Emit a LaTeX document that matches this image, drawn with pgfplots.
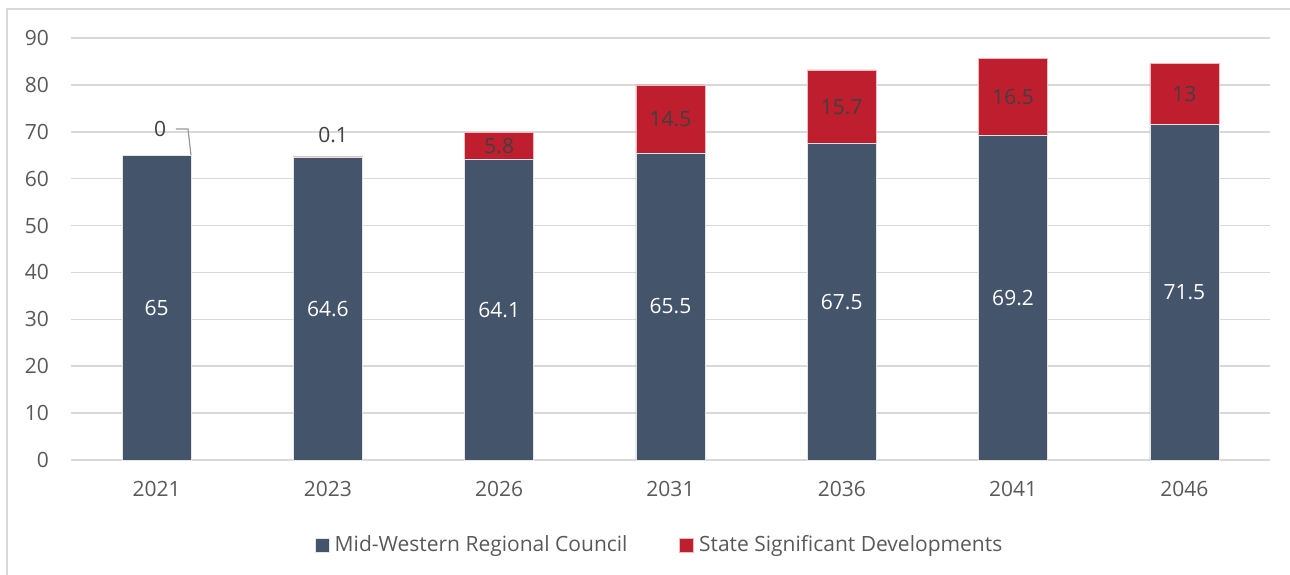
\documentclass[border=0pt]{standalone}
\usepackage{fontspec}
\setmainfont{Open Sans}
\usepackage{pgfplots}
\pgfplotsset{compat=1.18}
\definecolor{cblue}{HTML}{44546A}
\definecolor{cred}{HTML}{BE1E2D}
\definecolor{cgrid}{HTML}{D9D9D9}
\definecolor{ctick}{HTML}{595959}
\definecolor{dlab}{HTML}{404040}
\newcommand{\fs}{\fontsize{21pt}{25pt}\selectfont}
\begin{document}
\fs
\begin{tikzpicture}
\path[use as bounding box] (0pt,0pt) rectangle (1290pt,-575pt);
\draw[cgrid, line width=1.3pt] (7pt,-580pt) -- (7pt,-9pt) -- (1295pt,-9pt);
\begin{axis}[
  at={(71pt,-460pt)}, anchor=south west,
  scale only axis, width=1199pt, height=422pt,
  xmin=-0.5, xmax=6.5, ymin=0, ymax=90,
  ybar stacked, bar width=69pt,
  xtick={0,...,6},
  xticklabels={2021,2023,2026,2031,2036,2041,2046},
  ytick={0,10,...,90},
  major tick length=0pt,
  axis line style={draw=none},
  ymajorgrids, grid style={cgrid, line width=1.5pt},
  tick label style={font=\fs, text=ctick},
  /pgf/number format/assume math mode=true,
  yticklabel style={xshift=-15pt},
  xticklabel style={yshift=-14pt},
  legend style={at={(0.491,-0.2014)}, anchor=center, draw=none, fill=none,
    legend columns=2, font=\fs, text=ctick,
    /tikz/every even column/.append style={column sep=50pt},
    /tikz/every odd column/.append style={column sep=0pt}},
  legend image code/.code={\fill[#1] (0pt,-7pt) rectangle (14pt,7pt);},
  clip=false,
]
\addplot[fill=cblue, draw=white!85!cblue, line width=0.6pt,
  point meta=explicit symbolic, nodes near coords,
  every node near coord/.append style={text=white, anchor=center, font=\fs}]
  coordinates {(0,65)[65] (1,64.6)[64.6] (2,64.1)[64.1] (3,65.5)[65.5] (4,67.5)[67.5] (5,69.2)[69.2] (6,71.5)[71.5]};
\addplot[fill=cred, draw=white!70!cred, line width=0.6pt,
  point meta=explicit symbolic, nodes near coords,
  every node near coord/.append style={text=dlab, anchor=center, font=\fs}]
  coordinates {(0,0)[] (1,0.1)[] (2,5.8)[5.8] (3,14.5)[14.5] (4,15.7)[15.7] (5,16.5)[16.5] (6,13)[13]};
\legend{\hspace{3pt}Mid-Western Regional Council, \hspace{3pt}State Significant Developments}
\node[text=dlab, anchor=center, font=\fs] at (axis cs:0.02,70.5) {0};
\draw[black!40, line width=1.2pt] (axis cs:0.113,70.6) -- (axis cs:0.183,70.6) -- (axis cs:0.2005,65);
\node[text=dlab, anchor=center, font=\fs] at (axis cs:1.03,69.3) {0.1};
\end{axis}
\end{tikzpicture}
\end{document}
